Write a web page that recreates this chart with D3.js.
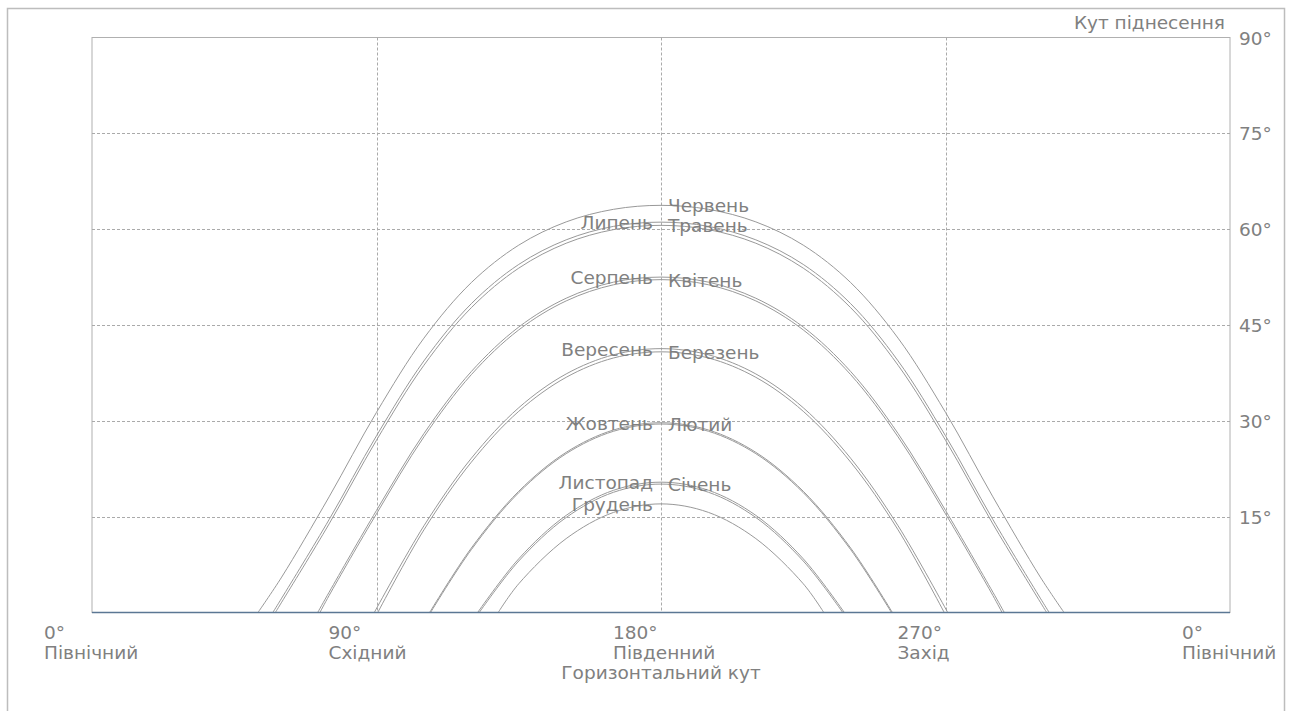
<!DOCTYPE html>
<meta charset="utf-8">
<head>
    <title>Sun path</title>
    <script type="text/javascript" src="https://cdn.jsdelivr.net/npm/d3@7"></script>
    <style>
        html, body {
            margin: 0;
            padding: 0;
            background: white;
        }
        text {
            font-family: "DejaVu Sans", sans-serif;
            font-size: 18.5px;
            fill: #808080;
        }
    </style>
</head>
<body>
<div id="chart"></div>
<script>
    var N = null;

    // month names and on which side of the noon line the label goes
    var monthNames = ["Січень", "Лютий", "Березень", "Квітень", "Травень", "Червень",
                      "Липень", "Серпень", "Вересень", "Жовтень", "Листопад", "Грудень"];
    var labelSide = ["right", "right", "right", "right", "right", "right",
                     "left", "left", "left", "left", "left", "left"];

    // azimuth (deg) where each curve meets the horizon
    var sunrise = [122.5, 107.1, 90.4, 72.1, 58.0, 52.5, 57.2, 71.4, 89.3, 106.8, 122.0, 128.5];
    var sunset  = [237.5, 252.9, 269.6, 287.9, 302.0, 307.5, 302.8, 288.6, 270.7, 253.2, 238.0, 231.5];

    // elevation (deg) read at these azimuths
    var azimuthGrid = [60, 75, 90, 105, 120, 135, 150, 165, 180, 195, 210, 225, 240, 255, 270, 285, 300];

    var elevJan = [N, N, N, N, N, 8.06, 14.87, 18.82, 20.10, 18.82, 14.87, 8.06, N, N, N, N, N];
    var elevFeb = [N, N, N, N, 9.84, 18.76, 24.86, 28.37, 29.50, 28.37, 24.86, 18.76, 9.84, N, N, N, N];
    var elevMar = [N, N, N, 12.93, 23.53, 31.49, 36.81, 39.84, 40.80, 39.84, 36.81, 31.49, 23.53, 12.93, N, N, N];
    var elevApr = [N, 2.65, 15.45, 27.49, 37.23, 44.23, 48.77, 51.30, 52.10, 51.30, 48.77, 44.23, 37.23, 27.49, 15.45, 2.65, N];
    var elevMay = [1.61, 13.86, 26.97, 38.70, 47.71, 53.90, 57.80, 59.93, 60.60, 59.93, 57.80, 53.90, 47.71, 38.70, 26.97, 13.86, 1.61];
    var elevJun = [5.54, 18.10, 31.33, 42.94, 51.64, 57.50, 61.14, 63.11, 63.73, 63.11, 61.14, 57.50, 51.64, 42.94, 31.33, 18.10, 5.54];
    var elevJul = [2.24, 14.54, 27.66, 39.38, 48.34, 54.48, 58.33, 60.44, 61.10, 60.44, 58.33, 54.48, 48.34, 39.38, 27.66, 14.54, 2.24];
    var elevAug = [N, 3.17, 15.98, 28.01, 37.72, 44.68, 49.19, 51.71, 52.50, 51.71, 49.19, 44.68, 37.72, 28.01, 15.98, 3.17, N];
    var elevSep = [N, N, N, 13.57, 24.14, 32.05, 37.34, 40.34, 41.30, 40.34, 37.34, 32.05, 24.14, 13.57, N, N, N];
    var elevOct = [N, N, N, N, 10.09, 18.98, 25.07, 28.57, 29.70, 28.57, 25.07, 18.98, 10.09, N, N, N, N];
    var elevNov = [N, N, N, N, N, 8.41, 15.20, 19.13, 20.40, 19.13, 15.20, 8.41, N, N, N, N, N];
    var elevDec = [N, N, N, N, N, 4.50, 11.57, 15.67, 17.00, 15.67, 11.57, 4.50, N, N, N, N, N];
    var elevations = [elevJan, elevFeb, elevMar, elevApr, elevMay, elevJun,
                      elevJul, elevAug, elevSep, elevOct, elevNov, elevDec];

    // axis ticks
    var xTicks = [0, 90, 180, 270, 360];
    var xTickNames = ["Північний", "Східний", "Південний", "Захід", "Північний"];
    var yTicks = [15, 30, 45, 60, 75, 90];

    var width = 1292, height = 711;
    var margin = {top: 37.5, right: 62, bottom: 98.5, left: 92};

    var svg = d3.select("#chart").append("svg")
        .attr("width", width)
        .attr("height", height);

    var x = d3.scaleLinear().domain([0, 360]).range([margin.left, width - margin.right]);
    var y = d3.scaleLinear().domain([0, 90]).range([height - margin.bottom, margin.top]);

    // outer frame
    svg.append("rect")
        .attr("x", 7.5).attr("y", 8.5)
        .attr("width", 1277).attr("height", 720)
        .attr("fill", "none")
        .attr("stroke", "#bdbdbd")
        .attr("stroke-width", 1.5);

    // plot frame
    svg.append("rect")
        .attr("x", x(0)).attr("y", y(90))
        .attr("width", x(360) - x(0)).attr("height", y(0) - y(90))
        .attr("fill", "none")
        .attr("stroke", "#b0b0b0")
        .attr("stroke-width", 1);

    // grid
    svg.append("g").selectAll("line")
        .data(yTicks.filter(function(d) { return d < 90; }))
        .enter().append("line")
        .attr("x1", x(0)).attr("x2", x(360))
        .attr("y1", function(d) { return Math.round(y(d)) + 0.5; })
        .attr("y2", function(d) { return Math.round(y(d)) + 0.5; })
        .attr("stroke", "#aaa")
        .attr("stroke-dasharray", "3,2");

    svg.append("g").selectAll("line")
        .data([90, 180, 270])
        .enter().append("line")
        .attr("x1", function(d) { return Math.round(x(d)) + 0.5; })
        .attr("x2", function(d) { return Math.round(x(d)) + 0.5; })
        .attr("y1", y(90)).attr("y2", y(0))
        .attr("stroke", "#aaa")
        .attr("stroke-dasharray", "3,2");

    // sun paths
    var line = d3.line()
        .x(function(d) { return x(d[0]); })
        .y(function(d) { return y(d[1]); })
        .curve(d3.curveCatmullRom.alpha(0.5));

    var paths = svg.append("g");
    monthNames.forEach(function(name, i) {
        var pts = [[sunrise[i], 0]];
        azimuthGrid.forEach(function(a, j) {
            var e = elevations[i][j];
            if (e !== null && a > sunrise[i] && a < sunset[i]) pts.push([a, e]);
        });
        pts.push([sunset[i], 0]);

        paths.append("path")
            .attr("d", line(pts))
            .attr("fill", "none")
            .attr("stroke", "#999")
            .attr("stroke-width", 1);

        var peak = d3.max(elevations[i]);
        var left = labelSide[i] == "left";
        svg.append("text")
            .attr("x", left ? x(180) - 8 : x(180) + 7)
            .attr("y", y(peak) + 7)
            .attr("text-anchor", left ? "end" : "start")
            .text(name);
    });

    // bottom axis line
    svg.append("line")
        .attr("x1", x(0)).attr("x2", x(360))
        .attr("y1", y(0)).attr("y2", y(0))
        .attr("stroke", "#5b7794")
        .attr("stroke-width", 1.5);

    // x labels, two lines under every tick
    var xl = svg.append("g").selectAll("g")
        .data(xTicks)
        .enter().append("g");
    xl.append("text")
        .attr("x", function(d) { return x(d) - 48; })
        .attr("y", 639)
        .text(function(d) { return (d % 360) + "°"; });
    xl.append("text")
        .attr("x", function(d) { return x(d) - 48; })
        .attr("y", 659)
        .text(function(d, i) { return xTickNames[i]; });

    svg.append("text")
        .attr("x", x(180))
        .attr("y", 679)
        .attr("text-anchor", "middle")
        .text("Горизонтальний кут");

    // y labels on the right
    svg.append("g").selectAll("text")
        .data(yTicks)
        .enter().append("text")
        .attr("x", 1239)
        .attr("y", function(d) { return y(d) + 7; })
        .text(function(d) { return d + "°"; });

    svg.append("text")
        .attr("x", 1225)
        .attr("y", 29)
        .attr("text-anchor", "end")
        .text("Кут піднесення");
</script>
</body>
</html>
